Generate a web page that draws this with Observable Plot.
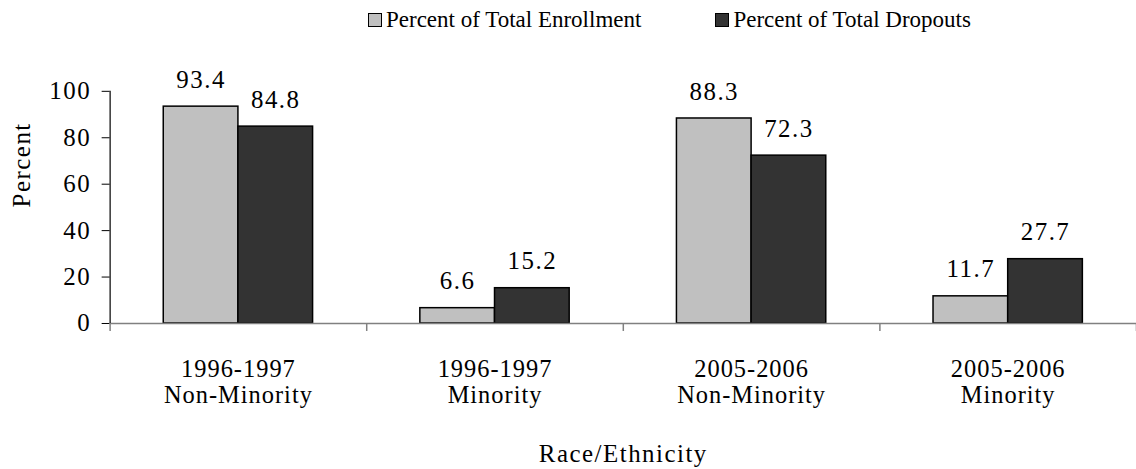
<!DOCTYPE html>
<html>
<head>
<meta charset="utf-8">
<script src="https://cdn.jsdelivr.net/npm/d3@7"></script>
<script src="https://cdn.jsdelivr.net/npm/@observablehq/plot@0.6"></script>
<style>
  html, body { margin: 0; padding: 0; background: #fff; overflow: hidden; width: 1136px; height: 469px; }
  #legend { height: 40px; display: flex; align-items: center; padding-left: 368px; box-sizing: border-box;
    font-family: "Liberation Serif", "Times New Roman", serif; font-size: 23px; letter-spacing: 0px; color: #000; }
  .item { display: flex; align-items: center; margin-right: 74px; }
  .sw { width: 12px; height: 12px; border: 1px solid #000; margin-right: 4px; }
  svg { display: block; }
  .grp text { letter-spacing: 1px; }
</style>
</head>
<body>
<div id="legend"></div>
<div id="chart"></div>
<script>
const groups = ["1996-1997\nNon-Minority", "1996-1997\nMinority", "2005-2006\nNon-Minority", "2005-2006\nMinority"];
const series = ["Percent of Total Enrollment", "Percent of Total Dropouts"];
const enrollment = [93.4, 6.6, 88.3, 11.7];
const dropouts = [84.8, 15.2, 72.3, 27.7];
const colors = ["#c0c0c0", "#333333"];
const yTicks = [0, 20, 40, 60, 80, 100];

const barW = 0.291;
const rows = [];
groups.forEach((g, i) => {
  rows.push({i, s: 0, v: enrollment[i], x1: i + 0.5 - barW, x2: i + 0.5});
  rows.push({i, s: 1, v: dropouts[i], x1: i + 0.5, x2: i + 0.5 + barW});
});

const leg = document.getElementById("legend");
series.forEach((s, k) => {
  const it = document.createElement("div");
  it.className = "item";
  it.innerHTML = `<div class="sw" style="background:${colors[k]}"></div><span>${s}</span>`;
  leg.appendChild(it);
});

const font = "'Liberation Serif', 'Times New Roman', serif";
const chart = Plot.plot({
  width: 1140,
  height: 429,
  marginLeft: 110,
  marginRight: 0,
  marginTop: 51,
  marginBottom: 145,
  style: {fontFamily: font, fontSize: "25px", color: "#000", background: "#fff", letterSpacing: "1.5px"},
  x: {type: "linear", domain: [0, 4], axis: null},
  y: {domain: [0, 100], axis: null},
  marks: [
    Plot.rectY(rows, {x1: "x1", x2: "x2", y1: 0, y2: "v", fill: d => colors[d.s], stroke: "#000", strokeWidth: 1.5}),
    Plot.ruleY([0], {stroke: "#808080", strokeWidth: 1.5}),
    Plot.ruleX([0], {stroke: "#000", strokeWidth: 1.2}),
    Plot.axisY({ticks: yTicks, tickSize: 8, tickPadding: 11, stroke: "#000", fontSize: 25, label: null, tickFormat: d => String(d)}),
    Plot.axisX({ticks: [0, 1, 2, 3, 4], tickSize: 8, label: null, tickFormat: () => "", stroke: "#808080", strokeWidth: 1.5}),
    Plot.axisX({ticks: [0.5, 1.5, 2.5, 3.5], tickSize: 0, tickPadding: 35, lineHeight: 1.07, fontSize: 24.5, label: null,
      className: "grp", tickFormat: d => groups[Math.floor(d)]}),
    Plot.text(rows, {x: d => (d.x1 + d.x2) / 2, y: "v", text: d => d.v.toFixed(1), lineAnchor: "bottom", dy: -19, fontSize: 25}),
    Plot.text(["Percent"], {frameAnchor: "left", rotate: -90, dx: -88, fontSize: 25}),
    Plot.text(["Race/Ethnicity"], {frameAnchor: "bottom", dy: 139, fontSize: 25})
  ]
});
document.getElementById("chart").appendChild(chart);
</script>
</body>
</html>
